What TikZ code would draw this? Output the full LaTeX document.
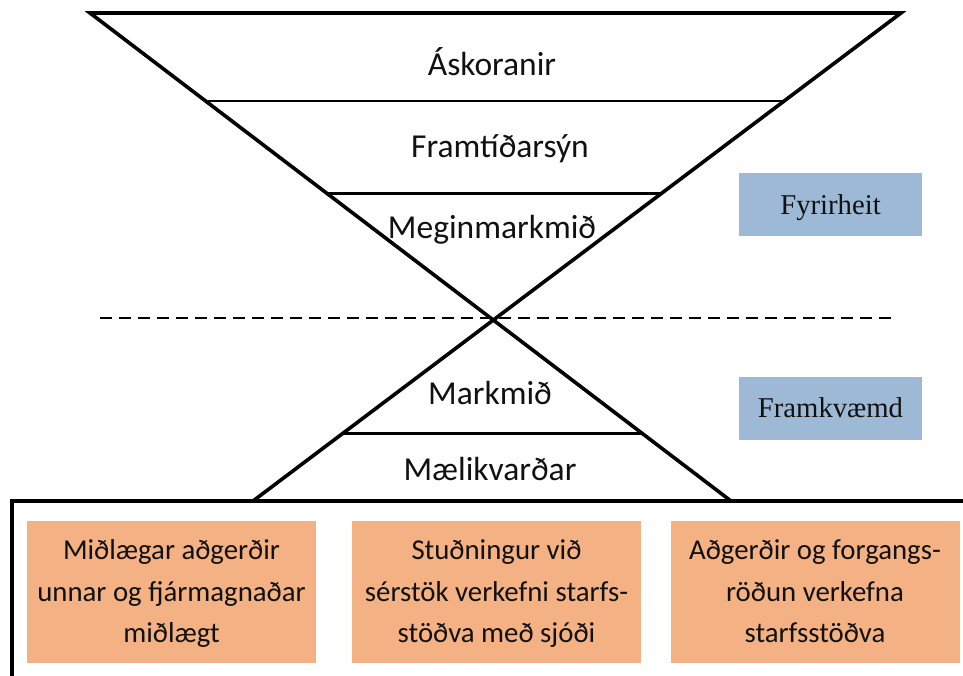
\documentclass[tikz,border=0pt]{standalone}
\usepackage{fontspec}
\setmainfont{Carlito}
\newfontfamily\serifx{Liberation Serif}
\definecolor{orng}{HTML}{F4B183}
\definecolor{blu}{HTML}{9DB9D5}
\definecolor{txt}{HTML}{111111}
\newcommand{\tst}{\rule[-10.7pt]{0pt}{40pt}}
\begin{document}
\begin{tikzpicture}[x=1pt,y=-1pt,
  diag/.style={line width=3.6pt, line join=miter},
  sepline/.style={line width=2.5pt},
  boxline/.style={line width=3.2pt},
  dashline/.style={line width=2.8pt, dash pattern=on 12pt off 7pt},
  lbl/.style={font=\fontsize{33.5}{40}\selectfont, text=txt, anchor=base, inner sep=0pt},
  bluebox/.style={fill=blu, minimum width=183pt, minimum height=63pt, inner sep=0pt,
    font=\serifx\fontsize{28.7}{34}\selectfont, text=txt, text height=19pt, text depth=0pt},
  orangebox/.style={fill=orng, minimum width=289pt, minimum height=142pt, inner sep=0pt,
    align=center, font=\fontsize{28.8}{41.5}\selectfont, text=txt}]
\useasboundingbox (0,0) rectangle (963,675);
\clip (0,0) rectangle (963,675);
\fill[white] (0,0) rectangle (963,675);

% funnel corners
\coordinate (tl) at (90,13);
\coordinate (tr) at (901,13);
\coordinate (bl) at (253,501);
\coordinate (br) at (731,501);
\coordinate (s1l) at (205.6,101);
\coordinate (s1r) at (784,101);
\coordinate (s2l) at (327,193.5);
\coordinate (s2r) at (661,193.5);
\coordinate (s3l) at (342.6,433.5);
\coordinate (s3r) at (642,433.5);
\coordinate (dl) at (100,318);
\coordinate (dr) at (897,318);
\coordinate (boxbl) at (12,690);
\coordinate (boxtl) at (12,501);
\coordinate (boxtr) at (975,501);

% outer box (frame)
\draw[boxline] (boxbl) -- (boxtl) -- (boxtr);

% funnel
\draw[diag] (br) -- (tl) -- (tr) -- (bl);
\draw[sepline] (s1l) -- (s1r);
\draw[sepline] (s2l) -- (s2r);
\draw[sepline] (s3l) -- (s3r);
\draw[dashline] (dl) -- (dr);

% labels
\node[lbl] (askoranir) at (492,75) {Áskoranir};
\node[lbl] (framtid) at (500,157) {Framtíðarsýn};
\node[lbl] (meginm) at (492,238) {Meginmarkmið};
\node[lbl] (markmid) at (490,404) {Markmið};
\node[lbl] (maeli) at (490,480) {Mælikvarðar};

% blue boxes
\node[bluebox] (fyrirheit) at (830.5,204.5) {Fyrirheit};
\node[bluebox] (framkv) at (830.5,408) {Framkvæmd};

% orange boxes
\node[orangebox] (b1) at (171.5,592) {\tst Miðlægar aðgerðir\\unnar og fjármagnaðar\\\tst miðlægt};
\node[orangebox] (b2) at (496.5,592) {\tst Stuðningur við\\sérstök verkefni starfs-\\\tst stöðva með sjóði};
\node[orangebox] (b3) at (815,592) {\tst Aðgerðir og forgangs-\\röðun verkefna\\\tst starfsstöðva};
\end{tikzpicture}
\end{document}
